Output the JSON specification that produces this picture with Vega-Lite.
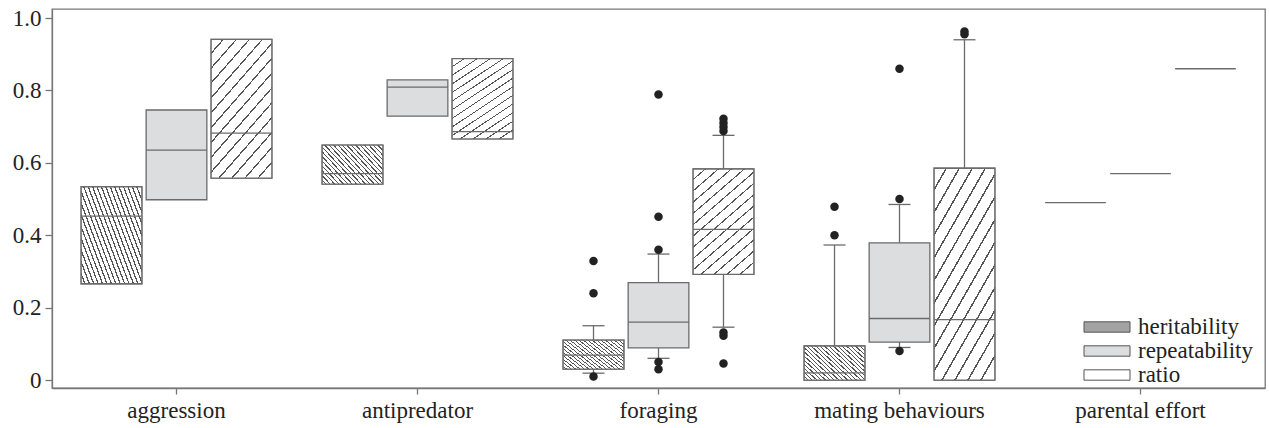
{
  "$schema": "https://vega.github.io/schema/vega-lite/v6.json",
  "autosize": {"type": "none"},
  "padding": {"left": 52, "top": 9, "right": 4, "bottom": 40},
  "width": 1213,
  "height": 379,
  "background": "white",
  "datasets": {
    "boxes": [
      {"cat": "aggression", "type": "heritability", "lo": null, "q1": 0.266, "med": 0.453, "q3": 0.534, "hi": null},
      {"cat": "aggression", "type": "repeatability", "lo": null, "q1": 0.498, "med": 0.635, "q3": 0.746, "hi": null},
      {"cat": "aggression", "type": "ratio", "lo": null, "q1": 0.558, "med": 0.682, "q3": 0.941, "hi": null},
      {"cat": "antipredator", "type": "heritability", "lo": null, "q1": 0.541, "med": 0.570, "q3": 0.649, "hi": null},
      {"cat": "antipredator", "type": "repeatability", "lo": null, "q1": 0.729, "med": 0.809, "q3": 0.829, "hi": null},
      {"cat": "antipredator", "type": "ratio", "lo": null, "q1": 0.666, "med": 0.686, "q3": 0.888, "hi": null},
      {"cat": "foraging", "type": "heritability", "lo": 0.019, "q1": 0.030, "med": 0.069, "q3": 0.110, "hi": 0.150},
      {"cat": "foraging", "type": "repeatability", "lo": 0.060, "q1": 0.089, "med": 0.160, "q3": 0.269, "hi": 0.348},
      {"cat": "foraging", "type": "ratio", "lo": 0.146, "q1": 0.292, "med": 0.416, "q3": 0.583, "hi": 0.676},
      {"cat": "mating behaviours", "type": "heritability", "lo": null, "q1": 0.0, "med": 0.020, "q3": 0.094, "hi": 0.373},
      {"cat": "mating behaviours", "type": "repeatability", "lo": 0.090, "q1": 0.105, "med": 0.170, "q3": 0.379, "hi": 0.485},
      {"cat": "mating behaviours", "type": "ratio", "lo": null, "q1": 0.0, "med": 0.167, "q3": 0.585, "hi": 0.940},
      {"cat": "parental effort", "type": "heritability", "lo": null, "q1": null, "med": 0.490, "q3": null, "hi": null},
      {"cat": "parental effort", "type": "repeatability", "lo": null, "q1": null, "med": 0.570, "q3": null, "hi": null},
      {"cat": "parental effort", "type": "ratio", "lo": null, "q1": null, "med": 0.860, "q3": null, "hi": null}
    ],
    "outliers": [
      {"cat": "foraging", "type": "heritability", "value": 0.329},
      {"cat": "foraging", "type": "heritability", "value": 0.240},
      {"cat": "foraging", "type": "heritability", "value": 0.010},
      {"cat": "foraging", "type": "repeatability", "value": 0.789},
      {"cat": "foraging", "type": "repeatability", "value": 0.451},
      {"cat": "foraging", "type": "repeatability", "value": 0.360},
      {"cat": "foraging", "type": "repeatability", "value": 0.050},
      {"cat": "foraging", "type": "repeatability", "value": 0.030},
      {"cat": "foraging", "type": "ratio", "value": 0.722},
      {"cat": "foraging", "type": "ratio", "value": 0.710},
      {"cat": "foraging", "type": "ratio", "value": 0.699},
      {"cat": "foraging", "type": "ratio", "value": 0.688},
      {"cat": "foraging", "type": "ratio", "value": 0.131},
      {"cat": "foraging", "type": "ratio", "value": 0.122},
      {"cat": "foraging", "type": "ratio", "value": 0.046},
      {"cat": "mating behaviours", "type": "heritability", "value": 0.400},
      {"cat": "mating behaviours", "type": "heritability", "value": 0.479},
      {"cat": "mating behaviours", "type": "repeatability", "value": 0.500},
      {"cat": "mating behaviours", "type": "repeatability", "value": 0.860},
      {"cat": "mating behaviours", "type": "repeatability", "value": 0.080},
      {"cat": "mating behaviours", "type": "ratio", "value": 0.955},
      {"cat": "mating behaviours", "type": "ratio", "value": 0.963}
    ]
  },
  "encoding": {
    "x": {
      "field": "cat", "type": "nominal",
      "scale": {"domain": ["aggression", "antipredator", "foraging", "mating behaviours", "parental effort"], "paddingInner": 0, "paddingOuter": 0.0166},
      "axis": {"title": null, "labelAngle": 0, "tickSize": 6, "labelPadding": 5, "labelFontSize": 23}
    },
    "xOffset": {
      "field": "type", "type": "nominal",
      "scale": {"domain": ["heritability", "repeatability", "ratio"], "paddingInner": 0.066, "paddingOuter": 0.387}
    }
  },
  "layer": [
    {
      "data": {"name": "boxes"},
      "transform": [{"filter": "datum.q1 != null"}],
      "mark": {"type": "rect", "stroke": "#6b6b6b", "strokeWidth": 1.3},
      "encoding": {
        "y": {
          "field": "q1", "type": "quantitative",
          "scale": {"domain": [-0.022, 1.025], "nice": false, "zero": false},
          "axis": {"title": null, "values": [0, 0.2, 0.4, 0.6, 0.8, 1.0], "labelExpr": "datum.value == 0 ? '0' : format(datum.value, '.1f')", "tickSize": 7, "labelPadding": 4, "labelFontSize": 23}
        },
        "y2": {"field": "q3"},
        "fill": {
          "field": "type", "type": "nominal",
          "scale": {"domain": ["heritability", "repeatability", "ratio"], "range": ["#a3a3a3", "#dcdddf", "#ffffff"]},
          "legend": {
            "title": null,
            "orient": "none",
            "legendX": 1043,
            "legendY": 306,
            "padding": 0,
            "rowPadding": -1,
            "symbolType": "M-2,-0.45H2V0.45H-2Z",
            "symbolSize": 529,
            "symbolStrokeColor": "#555",
            "symbolStrokeWidth": 1,
            "labelOffset": 19,
            "labelFont": "Liberation Serif, Times New Roman, serif",
            "labelFontSize": 23,
            "labelColor": "#222"
          }
        }
      }
    },
    {
      "data": {"name": "boxes"},
      "transform": [{"filter": "datum.q1 != null && datum.type === 'heritability'"}],
      "mark": {"type": "rect", "stroke": "#6b6b6b", "strokeWidth": 1.3,
        "fill": {"gradient": "linear", "x1": 0, "y1": 1, "x2": 1.176, "y2": 0.294, "stops": [
          {"offset": 0, "color": "#fff"},
          {"offset": 0.0319, "color": "#fff"}, {"offset": 0.0319, "color": "#555"}, {"offset": 0.0455, "color": "#555"}, {"offset": 0.0455, "color": "#fff"},
          {"offset": 0.0773, "color": "#fff"}, {"offset": 0.0773, "color": "#555"}, {"offset": 0.0909, "color": "#555"}, {"offset": 0.0909, "color": "#fff"},
          {"offset": 0.1228, "color": "#fff"}, {"offset": 0.1228, "color": "#555"}, {"offset": 0.1364, "color": "#555"}, {"offset": 0.1364, "color": "#fff"},
          {"offset": 0.1682, "color": "#fff"}, {"offset": 0.1682, "color": "#555"}, {"offset": 0.1818, "color": "#555"}, {"offset": 0.1818, "color": "#fff"},
          {"offset": 0.2137, "color": "#fff"}, {"offset": 0.2137, "color": "#555"}, {"offset": 0.2273, "color": "#555"}, {"offset": 0.2273, "color": "#fff"},
          {"offset": 0.2591, "color": "#fff"}, {"offset": 0.2591, "color": "#555"}, {"offset": 0.2727, "color": "#555"}, {"offset": 0.2727, "color": "#fff"},
          {"offset": 0.3046, "color": "#fff"}, {"offset": 0.3046, "color": "#555"}, {"offset": 0.3182, "color": "#555"}, {"offset": 0.3182, "color": "#fff"},
          {"offset": 0.35, "color": "#fff"}, {"offset": 0.35, "color": "#555"}, {"offset": 0.3636, "color": "#555"}, {"offset": 0.3636, "color": "#fff"},
          {"offset": 0.3955, "color": "#fff"}, {"offset": 0.3955, "color": "#555"}, {"offset": 0.4091, "color": "#555"}, {"offset": 0.4091, "color": "#fff"},
          {"offset": 0.4409, "color": "#fff"}, {"offset": 0.4409, "color": "#555"}, {"offset": 0.4545, "color": "#555"}, {"offset": 0.4545, "color": "#fff"},
          {"offset": 0.4864, "color": "#fff"}, {"offset": 0.4864, "color": "#555"}, {"offset": 0.5, "color": "#555"}, {"offset": 0.5, "color": "#fff"},
          {"offset": 0.5319, "color": "#fff"}, {"offset": 0.5319, "color": "#555"}, {"offset": 0.5455, "color": "#555"}, {"offset": 0.5455, "color": "#fff"},
          {"offset": 0.5773, "color": "#fff"}, {"offset": 0.5773, "color": "#555"}, {"offset": 0.5909, "color": "#555"}, {"offset": 0.5909, "color": "#fff"},
          {"offset": 0.6228, "color": "#fff"}, {"offset": 0.6228, "color": "#555"}, {"offset": 0.6364, "color": "#555"}, {"offset": 0.6364, "color": "#fff"},
          {"offset": 0.6682, "color": "#fff"}, {"offset": 0.6682, "color": "#555"}, {"offset": 0.6818, "color": "#555"}, {"offset": 0.6818, "color": "#fff"},
          {"offset": 0.7137, "color": "#fff"}, {"offset": 0.7137, "color": "#555"}, {"offset": 0.7273, "color": "#555"}, {"offset": 0.7273, "color": "#fff"},
          {"offset": 0.7591, "color": "#fff"}, {"offset": 0.7591, "color": "#555"}, {"offset": 0.7727, "color": "#555"}, {"offset": 0.7727, "color": "#fff"},
          {"offset": 0.8046, "color": "#fff"}, {"offset": 0.8046, "color": "#555"}, {"offset": 0.8182, "color": "#555"}, {"offset": 0.8182, "color": "#fff"},
          {"offset": 0.85, "color": "#fff"}, {"offset": 0.85, "color": "#555"}, {"offset": 0.8636, "color": "#555"}, {"offset": 0.8636, "color": "#fff"},
          {"offset": 0.8955, "color": "#fff"}, {"offset": 0.8955, "color": "#555"}, {"offset": 0.9091, "color": "#555"}, {"offset": 0.9091, "color": "#fff"},
          {"offset": 0.9409, "color": "#fff"}, {"offset": 0.9409, "color": "#555"}, {"offset": 0.9545, "color": "#555"}, {"offset": 0.9545, "color": "#fff"},
          {"offset": 1, "color": "#fff"}
        ]}
      },
      "encoding": {
        "y": {"field": "q1", "type": "quantitative"},
        "y2": {"field": "q3"}
      }
    },
    {
      "data": {"name": "boxes"},
      "transform": [{"filter": "datum.q1 != null && datum.type === 'ratio'"}],
      "mark": {"type": "rect", "stroke": "#6b6b6b", "strokeWidth": 1.3,
        "fill": {"gradient": "linear", "x1": 0, "y1": 0, "x2": 0.6, "y2": 1.2, "stops": [
          {"offset": 0, "color": "#fff"},
          {"offset": 0.0621, "color": "#fff"}, {"offset": 0.0621, "color": "#555"}, {"offset": 0.0714, "color": "#555"}, {"offset": 0.0714, "color": "#fff"},
          {"offset": 0.1336, "color": "#fff"}, {"offset": 0.1336, "color": "#555"}, {"offset": 0.1429, "color": "#555"}, {"offset": 0.1429, "color": "#fff"},
          {"offset": 0.205, "color": "#fff"}, {"offset": 0.205, "color": "#555"}, {"offset": 0.2143, "color": "#555"}, {"offset": 0.2143, "color": "#fff"},
          {"offset": 0.2764, "color": "#fff"}, {"offset": 0.2764, "color": "#555"}, {"offset": 0.2857, "color": "#555"}, {"offset": 0.2857, "color": "#fff"},
          {"offset": 0.3479, "color": "#fff"}, {"offset": 0.3479, "color": "#555"}, {"offset": 0.3571, "color": "#555"}, {"offset": 0.3571, "color": "#fff"},
          {"offset": 0.4193, "color": "#fff"}, {"offset": 0.4193, "color": "#555"}, {"offset": 0.4286, "color": "#555"}, {"offset": 0.4286, "color": "#fff"},
          {"offset": 0.4907, "color": "#fff"}, {"offset": 0.4907, "color": "#555"}, {"offset": 0.5, "color": "#555"}, {"offset": 0.5, "color": "#fff"},
          {"offset": 0.5621, "color": "#fff"}, {"offset": 0.5621, "color": "#555"}, {"offset": 0.5714, "color": "#555"}, {"offset": 0.5714, "color": "#fff"},
          {"offset": 0.6336, "color": "#fff"}, {"offset": 0.6336, "color": "#555"}, {"offset": 0.6429, "color": "#555"}, {"offset": 0.6429, "color": "#fff"},
          {"offset": 0.705, "color": "#fff"}, {"offset": 0.705, "color": "#555"}, {"offset": 0.7143, "color": "#555"}, {"offset": 0.7143, "color": "#fff"},
          {"offset": 0.7764, "color": "#fff"}, {"offset": 0.7764, "color": "#555"}, {"offset": 0.7857, "color": "#555"}, {"offset": 0.7857, "color": "#fff"},
          {"offset": 0.8479, "color": "#fff"}, {"offset": 0.8479, "color": "#555"}, {"offset": 0.8571, "color": "#555"}, {"offset": 0.8571, "color": "#fff"},
          {"offset": 0.9193, "color": "#fff"}, {"offset": 0.9193, "color": "#555"}, {"offset": 0.9286, "color": "#555"}, {"offset": 0.9286, "color": "#fff"},
          {"offset": 1, "color": "#fff"}
        ]}
      },
      "encoding": {
        "y": {"field": "q1", "type": "quantitative"},
        "y2": {"field": "q3"}
      }
    },
    {
      "data": {"name": "boxes"},
      "mark": {"type": "rect", "fillOpacity": 0, "stroke": "#6b6b6b", "strokeWidth": 1.3},
      "encoding": {
        "y": {"field": "med", "type": "quantitative"},
        "y2": {"field": "med"}
      }
    },
    {
      "data": {"name": "boxes"},
      "transform": [{"filter": "datum.lo != null"}],
      "mark": {"type": "rule", "color": "#6b6b6b", "strokeWidth": 1.3},
      "encoding": {
        "y": {"field": "lo", "type": "quantitative"},
        "y2": {"field": "q1"}
      }
    },
    {
      "data": {"name": "boxes"},
      "transform": [{"filter": "datum.hi != null"}],
      "mark": {"type": "rule", "color": "#6b6b6b", "strokeWidth": 1.3},
      "encoding": {
        "y": {"field": "q3", "type": "quantitative"},
        "y2": {"field": "hi"}
      }
    },
    {
      "data": {"name": "boxes"},
      "transform": [{"filter": "datum.lo != null"}],
      "mark": {"type": "tick", "orient": "horizontal", "size": 22, "thickness": 1.3, "color": "#6b6b6b", "opacity": 1},
      "encoding": {
        "y": {"field": "lo", "type": "quantitative"}
      }
    },
    {
      "data": {"name": "boxes"},
      "transform": [{"filter": "datum.hi != null"}],
      "mark": {"type": "tick", "orient": "horizontal", "size": 22, "thickness": 1.3, "color": "#6b6b6b", "opacity": 1},
      "encoding": {
        "y": {"field": "hi", "type": "quantitative"}
      }
    },
    {
      "data": {"name": "outliers"},
      "mark": {"type": "circle", "size": 72, "color": "#222", "opacity": 1},
      "encoding": {
        "y": {"field": "value", "type": "quantitative"}
      }
    }
  ],
  "config": {
    "font": "Liberation Serif, Times New Roman, serif",
    "axis": {"labelFont": "Liberation Serif, Times New Roman, serif", "labelColor": "#222", "domainColor": "#777", "tickColor": "#777", "domainWidth": 1.3, "tickWidth": 1.3, "grid": false},
    "legend": {"labelFont": "Liberation Serif, Times New Roman, serif"},
    "view": {"stroke": "#777", "strokeWidth": 1.3}
  }
}
